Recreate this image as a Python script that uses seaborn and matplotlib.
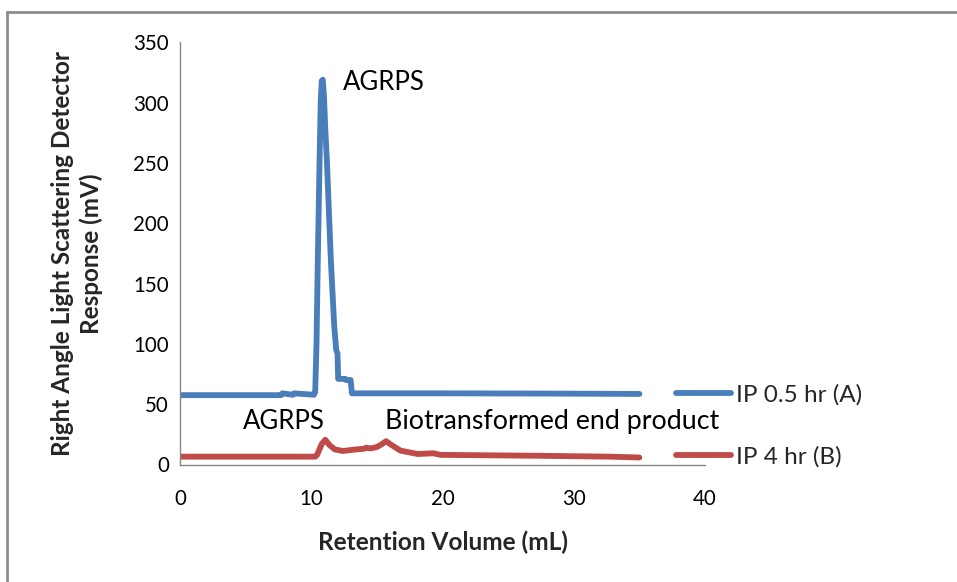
import matplotlib
matplotlib.use("Agg")
import matplotlib.pyplot as plt
from matplotlib.lines import Line2D
import seaborn as sns
import pandas as pd

# Chromatogram traces: retention volume (mL) and detector response (mV)
blue_label = "IP 0.5 hr (A)"
blue_x = [0, 2.5, 5.0, 7.7, 7.8, 8.6, 8.7, 10.2, 10.3, 10.4, 10.5, 10.63, 10.72, 10.8, 10.88,
          10.97, 11.07, 11.2, 11.35, 11.5, 11.75, 11.9, 12.0, 12.05, 12.6, 12.65, 13.0,
          13.1, 20.0, 28.0, 35.0]
blue_y = [57.5, 57.5, 57.5, 57.5, 59.0, 57.8, 59.0, 57.8, 60, 100, 170, 250, 300, 318, 319,
          305, 278, 250, 208, 168, 115, 95, 92, 71, 71, 70, 70,
          59, 59, 58.8, 58.5]

red_label = "IP 4 hr (B)"
red_x = [0, 5.0, 10.3, 10.45, 10.8, 11.07, 11.4, 11.8, 12.4, 13.5, 14.0, 14.2, 14.5,
         15.0, 15.4, 15.7, 16.0, 16.8, 18.1, 19.3, 19.85, 26.7, 32.8, 35.0]
red_y = [6.5, 6.5, 6.5, 8, 17, 20.5, 16, 12.5, 11.2, 12.6, 13, 14, 13.3,
         14.5, 17, 19.3, 17, 11.5, 8.7, 9.3, 8, 7.3, 6.5, 5.8]

x_ticks = [0, 10, 20, 30, 40]
y_ticks = [0, 50, 100, 150, 200, 250, 300, 350]

peak_labels = [("AGRPS", 12.4, 317), ("AGRPS", 4.8, 35.5), ("Biotransformed end product", 15.6, 35.5)]

df = pd.concat([
    pd.DataFrame({"Retention Volume (mL)": blue_x, "Response": blue_y, "Sample": blue_label}),
    pd.DataFrame({"Retention Volume (mL)": red_x, "Response": red_y, "Sample": red_label}),
], ignore_index=True)

sns.set_theme(style="white")
plt.rcParams["font.family"] = ["Lato", "DejaVu Sans"]

fig = plt.figure(figsize=(9.57, 5.82), dpi=100)
ax = fig.add_axes([180 / 957, 1 - 464.5 / 582, 525 / 957, 422.2 / 582])

palette = {blue_label: "#4A7EBB", red_label: "#BE4B48"}
lw = 4.2
sns.lineplot(data=df, x="Retention Volume (mL)", y="Response", hue="Sample",
             palette=palette, linewidth=lw, sort=False, estimator=None, ax=ax)

ax.set_xlim(0, 40)
ax.set_ylim(0, 350)
ax.set_xticks(x_ticks)
ax.set_yticks(y_ticks)
ax.tick_params(axis="both", which="major", labelsize=14.8, colors="#868686",
               labelcolor="#000000", length=6.5, width=1, direction="out")
ax.tick_params(axis="x", pad=11)
ax.tick_params(axis="y", pad=1.5)
for side in ("top", "right"):
    ax.spines[side].set_visible(False)
for side in ("left", "bottom"):
    ax.spines[side].set_color("#868686")
    ax.spines[side].set_linewidth(1)

ax.set_xlabel("Retention Volume (mL)", fontsize=17.6, fontweight="bold", labelpad=16)
ax.set_ylabel("Right Angle Light Scattering Detector\nResponse (mV)", fontsize=17.5,
              fontweight="bold", labelpad=22, linespacing=1.25)

for text, tx, ty in peak_labels:
    fs = 19.3 if len(text) > 10 else 18.5
    ax.text(tx, ty, text, fontsize=fs, ha="left", va="center", color="#000000")

handles, labels = ax.get_legend_handles_labels()
for h in handles:
    h.set_linewidth(lw)
leg_fs = 17.5
px = leg_fs * 100 / 72
ax.legend(handles, labels, loc="center left", bbox_to_anchor=(676 / 957, 1 - 425.5 / 582),
          bbox_transform=fig.transFigure, frameon=False, fontsize=leg_fs,
          handlelength=55 / px, handletextpad=5 / px,
          labelspacing=1.67, borderaxespad=0, borderpad=0)

# outer chart frame (top and left edges)
fig.add_artist(Line2D([7.5 / 957, 7.5 / 957], [0, 1 - 11.5 / 582], transform=fig.transFigure,
                      color="#8C8C8C", linewidth=2))
fig.add_artist(Line2D([7.5 / 957, 1], [1 - 11.5 / 582, 1 - 11.5 / 582], transform=fig.transFigure,
                      color="#8C8C8C", linewidth=2))

fig.savefig("out.png", dpi=100)
